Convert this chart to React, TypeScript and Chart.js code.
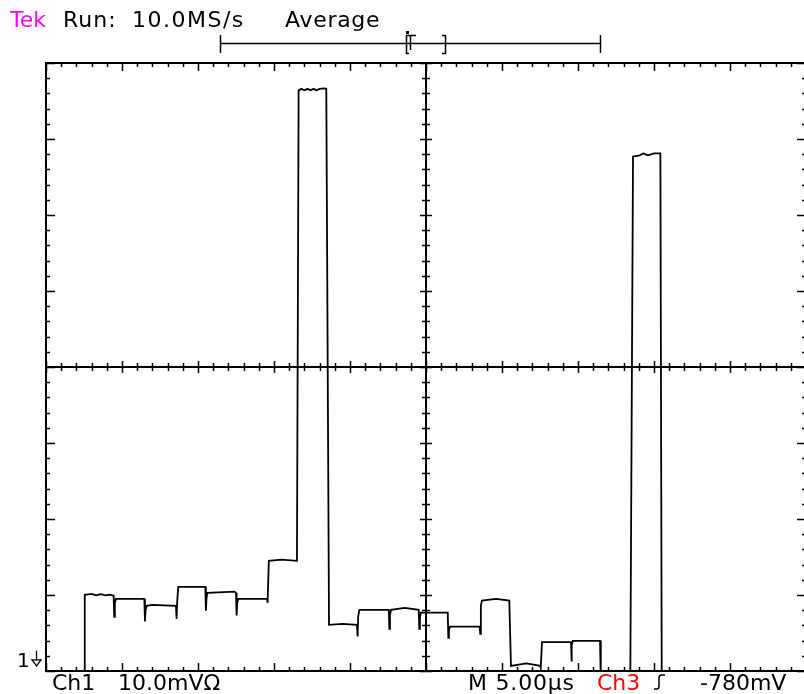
import React, { useEffect, useRef } from "react";
import { Chart, registerables } from "chart.js";

Chart.register(...registerables);

// Time axis (µs) and Ch1 trace (mV, relative to the ground marker)
const timeUs = [
  0, 2.5, 2.55, 3.0, 3.3, 3.6, 3.9, 4.2, 4.45, 4.49, 4.53, 4.6,
  6.47, 6.51, 6.55, 6.62, 7.0, 8.55, 8.59, 8.63, 8.7, 10.48, 10.52, 10.56, 10.62,
  12.4, 12.5, 12.54, 12.58, 12.65, 14.54, 14.58, 14.66, 15.5, 16.51,
  16.62, 16.8, 17.0, 17.2, 17.4, 17.6, 17.8, 18.0, 18.3, 18.44, 18.62,
  19.5, 20.46, 20.5, 20.54, 20.62, 22.55, 22.59, 22.63, 22.7, 23.6, 24.52, 24.56, 24.6, 24.66,
  26.43, 26.47, 26.51, 26.58, 28.53, 28.57, 28.61, 28.68, 29.6, 30.48, 30.59,
  31.6, 32.52, 32.55, 32.63, 34.54, 34.57, 34.6, 34.66, 36.45, 36.5,
  38.44, 38.62, 39.0, 39.3, 39.6, 40.0, 40.42, 40.51, 50,
];
const ch1mV = [
  -3, -3, 8.42, 8.55, 8.35, 8.5, 8.35, 8.45, 8.3, 5.53, 7.3, 7.89,
  7.89, 4.91, 6.4, 6.97, 7.1, 6.97, 5.26, 7.5, 9.47, 9.47, 6.32, 8.0, 8.68,
  8.85, 8.68, 5.7, 7.3, 7.89, 7.89, 7.37, 12.89, 13.05, 12.89,
  74.8, 75.0, 74.8, 75.0, 74.8, 75.0, 74.8, 75.0, 75.05, 75.0, 4.47,
  4.6, 4.47, 2.93, 5.6, 6.45, 6.45, 3.95, 5.8, 6.45, 6.7, 6.45, 3.95, 5.4, 6.09,
  6.09, 2.76, 3.8, 4.25, 4.25, 3.29, 7.0, 7.67, 7.9, 7.67, -0.92,
  -0.6, -0.92, -1.18, 2.2, 2.2, -0.36, 1.8, 2.37, 2.37, -3,
  -3, 66.1, 66.2, 66.5, 66.25, 66.5, 66.5, -3, -3,
];

// Scope settings
const xMin = 0;
const xDivs = 10;
const usPerDiv = 5;
const yMin = -1.6;
const yDivs = 8;
const mVPerDiv = 10;

const topLabels = { tek: "Tek", run: "Run:", rate: "10.0MS/s", mode: "Average" };
const bottomLabels = { ch1: "Ch1", scale: "10.0mVΩ", time: "M 5.00µs", ch3: "Ch3", level: "-780mV", gnd: "1" };

const W = 812;
const H = 694;

const graticulePlugin = {
  id: "graticule",
  afterDatasetsDraw(chart: any) {
    const { ctx, chartArea } = chart;
    const xs = chart.scales.x;
    const ys = chart.scales.y;
    const { left, right, top, bottom } = chartArea;
    ctx.save();
    ctx.strokeStyle = "#000";
    ctx.lineWidth = 2;
    ctx.strokeRect(left, top, right - left, bottom - top);
    const cx = xs.getPixelForValue(xMin + (xDivs / 2) * usPerDiv);
    const cy = ys.getPixelForValue(yMin + (yDivs / 2) * mVPerDiv);
    ctx.beginPath();
    ctx.moveTo(cx, top);
    ctx.lineTo(cx, bottom);
    ctx.moveTo(left, cy);
    ctx.lineTo(right, cy);
    ctx.stroke();
    ctx.lineWidth = 1.5;
    ctx.beginPath();
    for (let i = 0; i <= xDivs * 5; i++) {
      const px = Math.round(xs.getPixelForValue(xMin + (i * usPerDiv) / 5)) + 0.5;
      const major = i % 5 === 0;
      const edgeLen = major ? 8 : 4;
      ctx.moveTo(px, top);
      ctx.lineTo(px, top + edgeLen);
      ctx.moveTo(px, bottom);
      ctx.lineTo(px, bottom - edgeLen);
      const cl = major ? 6 : 4;
      ctx.moveTo(px, cy - cl);
      ctx.lineTo(px, cy + cl);
    }
    for (let j = 0; j <= yDivs * 5; j++) {
      const py = Math.round(ys.getPixelForValue(yMin + (j * mVPerDiv) / 5)) + 0.5;
      const major = j % 5 === 0;
      const edgeLen = major ? 9 : 4;
      ctx.moveTo(left, py);
      ctx.lineTo(left + edgeLen, py);
      ctx.moveTo(right, py);
      ctx.lineTo(right - edgeLen, py);
      const cl = major ? 6 : 4;
      ctx.moveTo(cx - cl, py);
      ctx.lineTo(cx + cl, py);
    }
    ctx.stroke();
    ctx.restore();
  },
  afterDraw(chart: any) {
    const { ctx } = chart;
    const ys = chart.scales.y;
    ctx.save();
    ctx.textBaseline = "alphabetic";
    ctx.font = "22px 'DejaVu Sans'";
    ctx.fillStyle = "#ff00ff";
    ctx.fillText(topLabels.tek, 10, 27);
    ctx.fillStyle = "#000";
    try { (ctx as any).letterSpacing = "1px"; } catch (e) {}
    ctx.fillText(topLabels.run, 63, 27);
    try { (ctx as any).letterSpacing = "1.5px"; } catch (e) {}
    ctx.fillText(topLabels.rate, 132, 27);
    try { (ctx as any).letterSpacing = "0.7px"; } catch (e) {}
    ctx.fillText(topLabels.mode, 285, 27);
    try { (ctx as any).letterSpacing = "0px"; } catch (e) {}

    // record bar
    ctx.strokeStyle = "#000";
    ctx.lineWidth = 1.5;
    ctx.beginPath();
    ctx.moveTo(220.5, 43.5);
    ctx.lineTo(600.5, 43.5);
    ctx.moveTo(220.5, 35);
    ctx.lineTo(220.5, 53);
    ctx.moveTo(600.5, 35);
    ctx.lineTo(600.5, 53);
    ctx.moveTo(409, 35.5);
    ctx.lineTo(406.5, 35.5);
    ctx.lineTo(406.5, 53.5);
    ctx.lineTo(409, 53.5);
    ctx.moveTo(442, 35.5);
    ctx.lineTo(445.5, 35.5);
    ctx.lineTo(445.5, 53.5);
    ctx.lineTo(442, 53.5);
    ctx.moveTo(406, 35.5);
    ctx.lineTo(416, 35.5);
    ctx.moveTo(410.5, 35.5);
    ctx.lineTo(410.5, 50);
    ctx.stroke();
    ctx.fillStyle = "#000";
    ctx.fillRect(406, 31, 3, 3);

    // ground marker
    const gy = ys.getPixelForValue(0);
    ctx.font = "20px 'DejaVu Sans'";
    ctx.fillText(bottomLabels.gnd, 17, gy + 8);
    ctx.lineWidth = 1.3;
    ctx.beginPath();
    ctx.moveTo(36.5, gy - 8);
    ctx.lineTo(36.5, gy + 2);
    ctx.moveTo(32, gy + 1);
    ctx.lineTo(41, gy + 1);
    ctx.lineTo(36.5, gy + 7);
    ctx.closePath();
    ctx.stroke();

    // bottom readouts
    ctx.font = "22px 'DejaVu Sans'";
    ctx.fillStyle = "#000";
    ctx.fillText(bottomLabels.ch1, 52, 690);
    ctx.fillText(bottomLabels.scale, 118, 690);
    try { (ctx as any).letterSpacing = "0.8px"; } catch (e) {}
    ctx.fillText(bottomLabels.time, 468, 690);
    try { (ctx as any).letterSpacing = "0px"; } catch (e) {}
    ctx.fillStyle = "#ff0000";
    ctx.fillText(bottomLabels.ch3, 597, 690);
    ctx.fillStyle = "#000";
    ctx.fillText(bottomLabels.level, 700, 690);
    ctx.lineWidth = 1.5;
    ctx.beginPath();
    ctx.moveTo(654, 689);
    ctx.lineTo(657, 689);
    ctx.quadraticCurveTo(659, 689, 659, 686);
    ctx.lineTo(659, 678);
    ctx.quadraticCurveTo(659, 675, 662, 675);
    ctx.lineTo(665, 675);
    ctx.stroke();
    ctx.restore();
  },
};

export default function App() {
  const ref = useRef<HTMLCanvasElement | null>(null);
  useEffect(() => {
    if (!ref.current) return;
    const points = timeUs.map((t, i) => ({ x: t, y: ch1mV[i] }));
    const chart = new Chart(ref.current, {
      type: "scatter",
      data: {
        datasets: [
          {
            data: points,
            showLine: true,
            borderColor: "#000",
            borderWidth: 1.8,
            pointRadius: 0,
            tension: 0,
          },
        ],
      },
      options: {
        animation: false,
        responsive: false,
        devicePixelRatio: 1,
        layout: { padding: { left: 46, right: W - 806, top: 63, bottom: H - 671 } },
        plugins: { legend: { display: false }, tooltip: { enabled: false } },
        scales: {
          x: { type: "linear", min: xMin, max: xMin + xDivs * usPerDiv, display: false },
          y: { type: "linear", min: yMin, max: yMin + yDivs * mVPerDiv, display: false },
        },
      },
      plugins: [graticulePlugin],
    });
    return () => chart.destroy();
  }, []);
  return (
    <div
      style={{
        position: "fixed",
        left: 0,
        top: 0,
        width: 804,
        height: 694,
        overflow: "hidden",
        background: "#fff",
      }}
    >
      <canvas ref={ref} width={W} height={H} style={{ display: "block", width: W, height: H }} />
    </div>
  );
}
